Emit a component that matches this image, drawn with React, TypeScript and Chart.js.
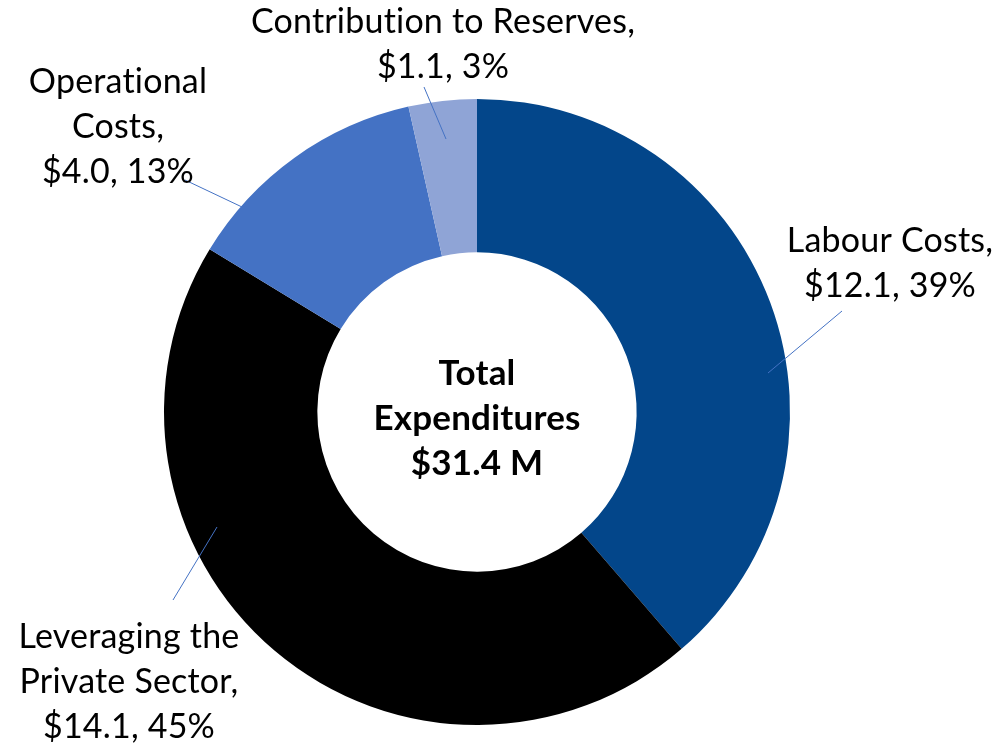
import React, { useEffect, useRef } from "react";
import { Chart, registerables } from "chart.js";

Chart.register(...registerables);

const categories = [
  "Labour Costs",
  "Leveraging the Private Sector",
  "Operational Costs",
  "Contribution to Reserves",
];
const values = [12.1, 14.1, 4.0, 1.1];
const percents = [39, 45, 13, 3];
const labelLines = [
  ["Labour Costs,", "$12.1, 39%"],
  ["Leveraging the", "Private Sector,", "$14.1, 45%"],
  ["Operational", "Costs,", "$4.0, 13%"],
  ["Contribution to Reserves,", "$1.1, 3%"],
];
const centerLines = ["Total", "Expenditures", "$31.4 M"];
const colors = ["#03468A", "#000000", "#4472C4", "#8FA4D6"];

// Layout (px offsets from the doughnut centre at reference radius 313)
const REF_R = 313;
const LABEL_POS = [
  { x: 413, y: -160 },
  { x: -348, y: 236 },
  { x: -359, y: -319 },
  { x: -34, y: -379 },
];
const LEADERS = [
  [291, -39, 365, -101],
  [-260, 115, -304, 188],
  [-292, -232, -235, -205],
  [-53, -325, -31, -273],
];
const CENTER_BASE = -27;
const LINE_H = 45;
const FONT = "Lato, 'Open Sans', sans-serif";
const FONT_SIZE = 34;
const CENTER_FONT_SIZE = 35;

const labelPlugin = {
  id: "doughnutLabels",
  afterDatasetsDraw(chart: any) {
    const meta = chart.getDatasetMeta(0);
    const arc = meta.data[0];
    if (!arc) return;
    const cx = arc.x;
    const cy = arc.y;
    const s = arc.outerRadius / REF_R;
    const ctx = chart.ctx;
    ctx.save();
    ctx.strokeStyle = "#4472C4";
    ctx.lineWidth = 1;
    LEADERS.forEach((l) => {
      ctx.beginPath();
      ctx.moveTo(cx + l[0] * s, cy + l[1] * s);
      ctx.lineTo(cx + l[2] * s, cy + l[3] * s);
      ctx.stroke();
    });
    ctx.fillStyle = "#000000";
    ctx.textAlign = "center";
    ctx.textBaseline = "alphabetic";
    if ("letterSpacing" in ctx) (ctx as any).letterSpacing = "0.2px";
    ctx.font = `${FONT_SIZE}px ${FONT}`;
    labelLines.forEach((lines, i) => {
      const p = LABEL_POS[i];
      lines.forEach((t, j) => {
        ctx.fillText(t, cx + p.x * s, cy + (p.y + j * LINE_H) * s);
      });
    });
    ctx.font = `bold ${CENTER_FONT_SIZE}px ${FONT}`;
    centerLines.forEach((t, j) => {
      ctx.fillText(t, cx, cy + (CENTER_BASE + j * LINE_H) * s);
    });
    ctx.restore();
  },
};

export default function App() {
  const ref = useRef<HTMLCanvasElement>(null);
  useEffect(() => {
    if (!ref.current) return;
    const chart = new Chart(ref.current, {
      type: "doughnut",
      data: {
        labels: categories,
        datasets: [
          {
            data: values,
            backgroundColor: colors,
            borderWidth: 0,
          },
        ],
      },
      options: {
        responsive: true,
        maintainAspectRatio: false,
        animation: false,
        cutout: "51%",
        layout: { padding: { left: 164, right: 207, top: 99, bottom: 21 } },
        plugins: {
          legend: { display: false },
          tooltip: { enabled: false },
        },
      },
      plugins: [labelPlugin],
    });
    return () => chart.destroy();
  }, []);
  return (
    <div
      style={{
        position: "absolute",
        left: 0,
        top: 0,
        width: 997,
        height: 746,
        background: "#ffffff",
      }}
    >
      <canvas ref={ref} />
    </div>
  );
}
